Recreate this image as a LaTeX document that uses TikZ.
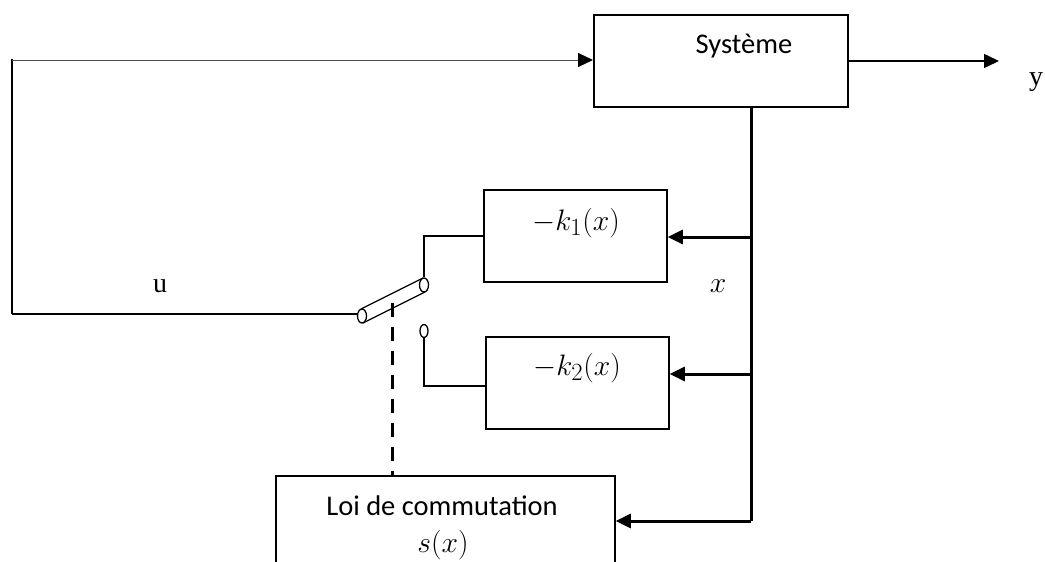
\documentclass[tikz,border=0pt]{standalone}
\usepackage{fontspec}
\setmainfont{Liberation Serif}
\newfontfamily\labelfont{Carlito}
\usetikzlibrary{arrows.meta,shapes.geometric}

\begin{document}
\begin{tikzpicture}[x=1pt,y=-1pt,
  blk/.style={draw, line width=1.5pt, inner sep=0pt},
  sans/.style={font=\labelfont\fontsize{28.5}{34}\selectfont, inner sep=0pt},
  mth/.style={font=\fontsize{24.88}{30}\selectfont, inner sep=0pt, scale=1.19},
  serif/.style={font=\fontsize{28}{34}\selectfont, inner sep=0pt},
  wire/.style={line width=1.3pt},
  bus/.style={line width=3pt},
  arr/.style={-{Triangle[length=15pt,width=14pt,color=black]}},
  contact/.style={draw, ellipse, line width=1.3pt, fill=white,
                  minimum width=9pt, minimum height=14pt, inner sep=0pt},
  ctrl/.style={line width=3pt, dash pattern=on 14pt off 10pt}]

\useasboundingbox (0,0) rectangle (1045,562);
\clip (0,0) rectangle (1045,562);

% blocks
\node[blk, line width=2pt, minimum width=254pt, minimum height=92pt] (sys) at (721,61) {};
\node[sans, anchor=base] (systxt) at (744,53) {Système};
\node[blk, minimum width=183pt, minimum height=92pt] (k1) at (575.5,236) {};
\node[mth, anchor=base] (k1txt) at (576,230) {$-k_1(x)$};
\node[blk, minimum width=183pt, minimum height=92pt] (k2) at (577.5,383) {};
\node[mth, anchor=base] (k2txt) at (577,375) {$-k_2(x)$};
\node[blk, minimum width=339pt, minimum height=120pt] (loi) at (445.5,536) {};
\node[sans, anchor=base] (loitxt) at (442,515) {Loi de commutation};
\node[mth, anchor=base] (stxt) at (443,552) {$s(x)$};

% output
\coordinate (out) at (999,61);
\draw[line width=1.5pt, arr] (sys.east) -- (out);
\node[serif, anchor=base] (ylbl) at (1036,85) {y};

% state bus feeding the gains and the switching law
\coordinate (bus) at (751,0);
\coordinate (bustop) at (bus |- sys.south);
\coordinate (busbot) at (751,521);
\draw[bus] (bustop) -- (busbot);
\draw[bus, arr] (busbot) -- (busbot -| loi.east);
\draw[bus, arr] ([yshift=-1pt]bus |- k1.east) -- ([yshift=-1pt]k1.east);
\draw[bus, arr] ([yshift=9pt]bus |- k2.east) -- ([yshift=9pt]k2.east);
\node[mth, anchor=base] (xlbl) at (718,292) {$x$};

% switch
\coordinate (lever) at (392.5,303);
\draw[ctrl] (lever) -- (lever |- loi.north);
\draw[wire] (361,309) -- (423,278);
\draw[wire] (363,323) -- (425,292);
\node[contact] (blade) at (424,285) {};
\node[contact] (pivot) at (362,316) {};
\node[contact, minimum width=8pt, minimum height=13pt] (c2) at (424,331) {};
\draw[wire] (blade.north) |- (k1.west);
\draw[wire] (c2.south) |- ([yshift=-3pt]k2.west);

% control signal back to the plant input
\coordinate (lb) at (12,314);
\coordinate (lt) at (12,60);
\draw[wire] (pivot.west |- lb) -- (lb);
\draw[line width=2pt] (lb) -- ([yshift=1pt]lt);
\draw[line width=1pt, black!70, arr] (lt) -- (sys.west |- lt);
\node[serif, anchor=base] (ulbl) at (160,292) {u};

\end{tikzpicture}
\end{document}
